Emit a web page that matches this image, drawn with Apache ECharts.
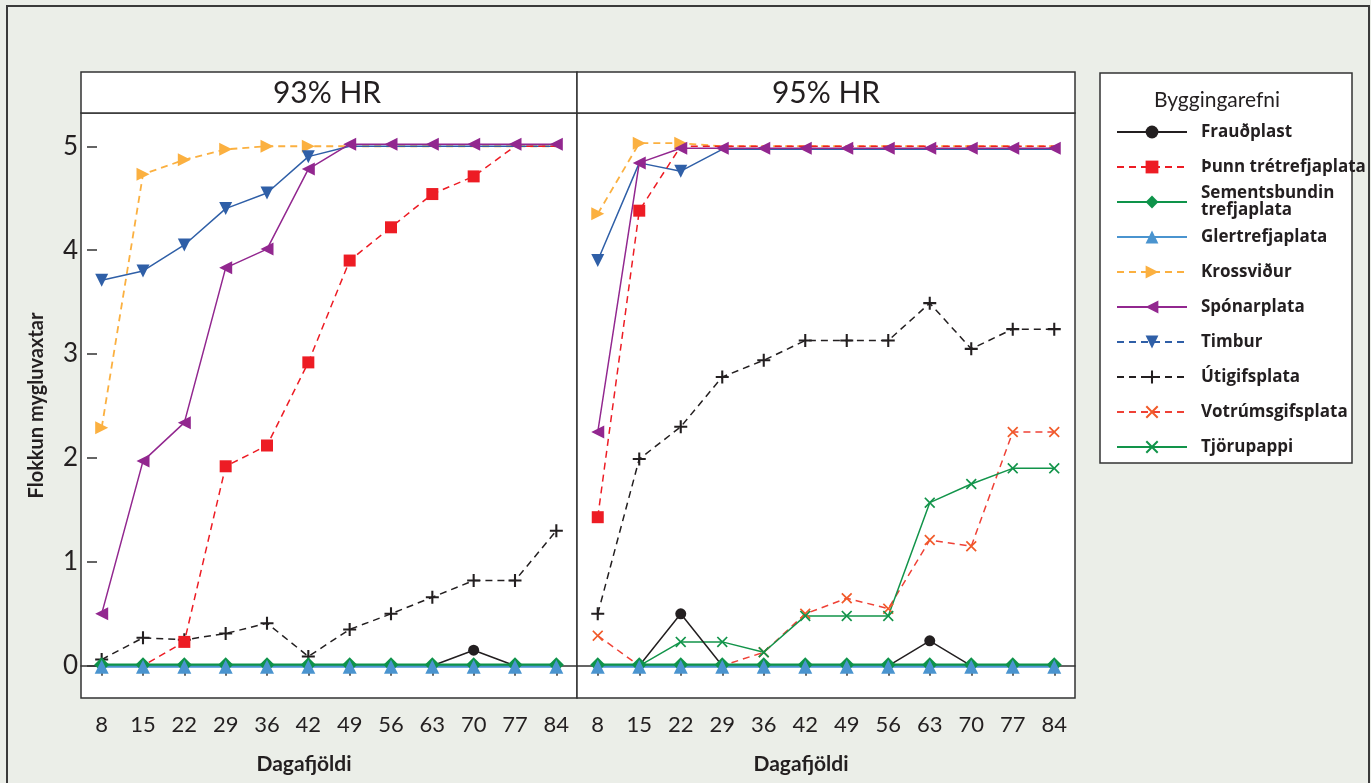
<!DOCTYPE html>
<html>
<head>
<meta charset="utf-8">
<script src="https://cdn.jsdelivr.net/npm/echarts@6/dist/echarts.min.js"></script>
<style>
html,body{margin:0;padding:0;background:#EBEEE8;}
#chart{width:1371px;height:783px;}
</style>
</head>
<body>
<div id="chart"></div>
<script>
// ---- data ----
const xCats = ['8','15','22','29','36','42','49','56','63','70','77','84'];
const yTicks = [0,1,2,3,4,5];
const panelTitles = ['93% HR','95% HR'];
const legendTitle = 'Byggingarefni';
const xName = 'Dagafjöldi';
const yName = 'Flokkun mygluvaxtar';
const names = ['Frauðplast','Þunn trétrefjaplata','Sementsbundin trefjaplata','Glertrefjaplata','Krossviður','Spónarplata','Timbur','Útigifsplata','Votrúmsgifsplata','Tjörupappi'];

// 93% HR
const frauL   = [0,0,0,0,0,0,0,0,0,0.15,0,0];
const thunnL  = [0,0,0.23,1.92,2.12,2.92,3.90,4.22,4.54,4.71,5.0,5.0];
const sementL = [0.01,0.01,0.01,0.01,0.01,0.01,0.01,0.01,0.01,0.01,0.01,0.01];
const glerL   = [-0.01,-0.01,-0.01,-0.01,-0.01,-0.01,-0.01,-0.01,-0.01,-0.01,-0.01,-0.01];
const krossL  = [2.29,4.73,4.87,4.97,5.0,5.0,5.0,5.0,5.0,5.0,5.0,5.0];
const sponarL = [0.50,1.97,2.34,3.83,4.01,4.78,5.02,5.02,5.02,5.02,5.02,5.02];
const timburL = [3.71,3.80,4.05,4.40,4.55,4.90,5.0,5.0,5.0,5.0,5.0,5.0];
const utiL    = [0.06,0.27,0.25,0.31,0.41,0.09,0.35,0.50,0.66,0.82,0.82,1.30];
const votL    = [0,0,0,0,0,0,0,0,0,0,0,0];
const tjoruL  = [0,0,0,0,0,0,0,0,0,0,0,0];

// 95% HR
const frauR   = [0,0,0.50,0,0,0,0,0,0.24,0,0,0];
const thunnR  = [1.43,4.38,5.0,5.0,5.0,5.0,5.0,5.0,5.0,5.0,5.0,5.0];
const sementR = [0.01,0.01,0.01,0.01,0.01,0.01,0.01,0.01,0.01,0.01,0.01,0.01];
const glerR   = [-0.01,-0.01,-0.01,-0.01,-0.01,-0.01,-0.01,-0.01,-0.01,-0.01,-0.01,-0.01];
const krossR  = [4.35,5.03,5.03,5.0,5.0,5.0,5.0,5.0,5.0,5.0,5.0,5.0];
const sponarR = [2.25,4.84,4.98,4.98,4.98,4.98,4.98,4.98,4.98,4.98,4.98,4.98];
const timburR = [3.90,4.84,4.76,4.97,4.97,4.97,4.97,4.97,4.97,4.97,4.97,4.97];
const utiR    = [0.50,1.99,2.30,2.78,2.94,3.13,3.13,3.13,3.49,3.05,3.24,3.24];
const votR    = [0.29,0,0,0,0.13,0.50,0.65,0.55,1.21,1.15,2.25,2.25];
const tjoruR  = [0,0,0.23,0.23,0.13,0.48,0.48,0.48,1.57,1.75,1.90,1.90];

const panelData = [
  {'Frauðplast':frauL,'Þunn trétrefjaplata':thunnL,'Sementsbundin trefjaplata':sementL,'Glertrefjaplata':glerL,'Krossviður':krossL,'Spónarplata':sponarL,'Timbur':timburL,'Útigifsplata':utiL,'Votrúmsgifsplata':votL,'Tjörupappi':tjoruL},
  {'Frauðplast':frauR,'Þunn trétrefjaplata':thunnR,'Sementsbundin trefjaplata':sementR,'Glertrefjaplata':glerR,'Krossviður':krossR,'Spónarplata':sponarR,'Timbur':timburR,'Útigifsplata':utiR,'Votrúmsgifsplata':votR,'Tjörupappi':tjoruR}
];

// ---- styles ----
const PLUS = 'path://M4.2,0H5.8V4.2H10V5.8H5.8V10H4.2V5.8H0V4.2H4.2Z';
const CROSS = 'path://M0,1.1L1.1,0L5,3.9L8.9,0L10,1.1L6.1,5L10,8.9L8.9,10L5,6.1L1.1,10L0,8.9L3.9,5Z';
const DASH = [7,5];
const styles = {
  'Frauðplast':               {line:'#231F20', mark:'#231F20', dash:false, symbol:'circle',   size:11, rot:0,   w:1.5},
  'Þunn trétrefjaplata':      {line:'#ED1C24', mark:'#ED1C24', dash:true,  symbol:'rect',     size:12, rot:0,   w:1.5},
  'Sementsbundin trefjaplata':{line:'#0E934A', mark:'#0E934A', dash:false, symbol:'diamond',  size:15, rot:0,   w:2.5},
  'Glertrefjaplata':          {line:'#4A94CF', mark:'#4A94CF', dash:false, symbol:'triangle', size:14, rot:0,   w:2},
  'Krossviður':               {line:'#FBB040', mark:'#FBB040', dash:true,  symbol:'triangle', size:13, rot:-90, w:1.8},
  'Spónarplata':              {line:'#92278F', mark:'#92278F', dash:false, symbol:'triangle', size:13, rot:90,  w:1.5},
  'Timbur':                   {line:'#2F5FA7', mark:'#2F5FA7', dash:false, symbol:'triangle', size:13, rot:180, w:1.5},
  'Útigifsplata':             {line:'#231F20', mark:'#231F20', dash:true,  symbol:PLUS,       size:13, rot:0,   w:1.5},
  'Votrúmsgifsplata':         {line:'#EF4136', mark:'#F15A29', dash:true,  symbol:CROSS,      size:11, rot:0,   w:1.5},
  'Tjörupappi':               {line:'#12944A', mark:'#12944A', dash:false, symbol:CROSS,      size:11, rot:0,   w:1.5}
};
// drawing order (later on top)
const drawOrder = ['Votrúmsgifsplata','Tjörupappi','Frauðplast','Útigifsplata','Krossviður','Timbur','Þunn trétrefjaplata','Spónarplata','Sementsbundin trefjaplata','Glertrefjaplata'];
// markers hidden where they sit under these series' markers
const coverSeries = ['Spónarplata','Glertrefjaplata'];

const FONT = 'Lato, "Open Sans", sans-serif';
const LFONT = '"Open Sans", "Noto Sans", sans-serif';
const TXT = '#231F20';
const BORDER = '#333333';

const grids = [
  {left:81, top:113, width:496, height:585},
  {left:577, top:113, width:498, height:585}
];

const series = [];
[0,1].forEach(p => {
  drawOrder.forEach(n => {
    const s = styles[n];
    const covers = (n === 'Sementsbundin trefjaplata' || coverSeries.indexOf(n) >= 0) ? [] : coverSeries.map(c => panelData[p][c]);
    const vals = panelData[p][n];
    const data = vals.map((v, i) => {
      for (const arr of covers) { if (Math.abs(arr[i] - v) < 0.045) return {value:v, symbol:'none'}; }
      return v;
    });
    series.push({
      name:n, type:'line', xAxisIndex:p, yAxisIndex:p,
      data: data,
      symbol: s.symbol, symbolSize:s.size, symbolRotate:s.rot,
      itemStyle:{color:s.mark},
      lineStyle:{color:s.line, width:s.w, type:s.dash?DASH:'solid'},
      silent:true, animation:false
    });
  });
});

const chart = echarts.init(document.getElementById('chart'), null, {renderer:'canvas'});
chart.setOption({
  backgroundColor:'#EBEEE8',
  animation:false,
  grid: grids.map(g => Object.assign({show:true, backgroundColor:'#fff', borderColor:BORDER, borderWidth:1.5}, g)),
  xAxis: [0,1].map(p => ({
    type:'category', gridIndex:p, data:xCats, boundaryGap:true,
    axisLine:{show:true, lineStyle:{color:BORDER, width:1.5}},
    axisTick:{show:true, alignWithLabel:true, length:10, lineStyle:{color:BORDER, width:1.5}},
    axisLabel:{fontFamily:FONT, fontSize:22, color:TXT, margin:16},
    name:xName, nameLocation:'middle', nameGap:56,
    nameTextStyle:{fontFamily:FONT, fontWeight:'bold', fontSize:21, color:TXT, padding:[0,50,0,0]},
    splitLine:{show:false}
  })),
  yAxis: [0,1].map(p => ({
    type:'value', gridIndex:p, min:-0.31, max:5.32,
    offset: p===0 ? -6 : 0,
    axisLine:{show:false},
    axisTick:{show:p===0, inside:true, length:10, customValues:yTicks, lineStyle:{color:BORDER, width:1.5}},
    axisLabel:{show:p===0, customValues:yTicks, fontFamily:FONT, fontSize:26, color:TXT, margin:9},
    splitLine:{show:false},
    name: p===0 ? yName : '', nameLocation:'middle', nameGap:40,
    nameTextStyle:{fontFamily:FONT, fontWeight:'bold', fontSize:20, color:TXT}
  })),
  legend:{
    orient:'vertical', left:1116, top:115, padding:0, itemGap:1,
    itemWidth:70, itemHeight:16, selectedMode:false,
    formatter: n => n === 'Sementsbundin trefjaplata' ? 'Sementsbundin\ntrefjaplata' : n,
    textStyle:{fontFamily:LFONT, fontWeight:'bold', fontSize:17, color:TXT, lineHeight:34, padding:[0,0,0,9]},
    data: names.map(n => {
      const d = {name:n};
      if (n === 'Sementsbundin trefjaplata') d.textStyle = {lineHeight:17};
      if (n === 'Timbur') d.lineStyle = {type:DASH};
      return d;
    })
  },
  graphic:[
    {type:'rect', silent:true, z:-10, shape:{x:7, y:6, width:1362, height:820}, style:{fill:'none', stroke:'#3a3a3a', lineWidth:2}},
    {type:'rect', silent:true, shape:{x:81, y:72, width:496, height:41}, style:{fill:'#fff', stroke:BORDER, lineWidth:1.5}},
    {type:'rect', silent:true, shape:{x:577, y:72, width:498, height:41}, style:{fill:'#fff', stroke:BORDER, lineWidth:1.5}},
    {type:'text', silent:true, x:327, y:93, style:{text:panelTitles[0], fontFamily:FONT, fontSize:30, fill:TXT, align:'center', verticalAlign:'middle'}},
    {type:'text', silent:true, x:826, y:93, style:{text:panelTitles[1], fontFamily:FONT, fontSize:30, fill:TXT, align:'center', verticalAlign:'middle'}},
    {type:'rect', silent:true, shape:{x:1100, y:73, width:252, height:390}, style:{fill:'#fff', stroke:BORDER, lineWidth:1.5}},
    {type:'text', silent:true, x:1217, y:100, style:{text:legendTitle, fontFamily:FONT, fontSize:21, fill:TXT, align:'center', verticalAlign:'middle'}}
  ],
  series: series
});
</script>
</body>
</html>
